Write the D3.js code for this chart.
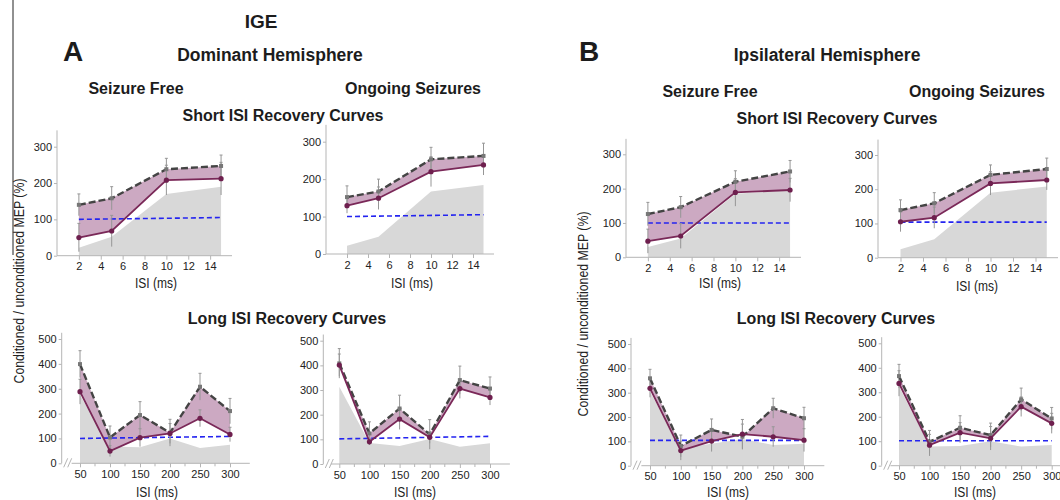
<!DOCTYPE html>
<html>
<head>
<meta charset="utf-8">
<script src="https://cdn.jsdelivr.net/npm/d3@7"></script>
<style>
  body { margin: 0; background: #fff; }
  svg { display: block; }
  .tick text { font-family: "Liberation Sans Narrow", "Liberation Sans", Arial, sans-serif; font-size: 11px; fill: #222; }
  .axis path, .axis line { stroke: #b5b5b5; }
  .ttl { font-family: "Liberation Sans", Arial, sans-serif; font-weight: bold; fill: #1c1c1c; }
  .lab { font-family: "Liberation Sans Narrow", "Liberation Sans", Arial, sans-serif; fill: #222; }
</style>
</head>
<body>
<svg width="1060" height="500"></svg>
<script>
// ---- data ----
var shortISI = [2, 5, 10, 15];
var longISI = [50, 100, 150, 200, 250, 300];
var shortXTicks = [2, 4, 6, 8, 10, 12, 14];
var longXTicks = [50, 100, 150, 200, 250, 300];
var shortYTicks = [0, 100, 200, 300];
var longYTicks = [0, 100, 200, 300, 400, 500];

// A: dominant hemisphere, short ISI, seizure free
var aShortFreeSolid = [50, 68, 208, 212];
var aShortFreeDashed = [140, 158, 238, 247];
var aShortFreeSolidErr = [39, 43, 41, 45];
var aShortFreeDashedErr = [30, 32, 30, 30];
var aShortFreeGray = [22, 52, 170, 190];
var aShortFreeBlue = [100, 105];
// A: short ISI, ongoing seizures
var aShortOngSolid = [129, 149, 220, 238];
var aShortOngDashed = [152, 167, 253, 262];
var aShortOngSolidErr = [20, 30, 40, 27];
var aShortOngDashedErr = [30, 33, 32, 34];
var aShortOngGray = [22, 46, 167, 184];
var aShortOngBlue = [100, 105];
// B: ipsilateral hemisphere, short ISI, seizure free
var bShortFreeSolid = [47, 62, 189, 196];
var bShortFreeDashed = [126, 146, 220, 250];
var bShortFreeSolidErr = [35, 36, 40, 34];
var bShortFreeDashedErr = [34, 31, 32, 32];
var bShortFreeGray = [30, 55, 185, 195];
var bShortFreeBlue = [100, 100];
// B: short ISI, ongoing seizures
var bShortOngSolid = [105, 117, 217, 227];
var bShortOngDashed = [139, 159, 242, 259];
var bShortOngSolidErr = [29, 31, 34, 29];
var bShortOngDashedErr = [30, 31, 29, 32];
var bShortOngGray = [25, 54, 190, 208];
var bShortOngBlue = [104, 104];

// A: long ISI, seizure free
var aLongFreeSolid = [288, 49, 103, 120, 181, 116];
var aLongFreeDashed = [399, 104, 194, 123, 308, 210];
var aLongFreeSolidErr = [50, 22, 36, 40, 34, 29];
var aLongFreeDashedErr = [54, 46, 54, 54, 54, 51];
var aLongFreeGray = [275, 68, 65, 100, 62, 75];
var aLongFreeBlue = [100, 108];
// A: long ISI, ongoing seizures
var aLongOngSolid = [401, 90, 182, 108, 306, 270];
var aLongOngDashed = [408, 124, 225, 120, 340, 306];
var aLongOngSolidErr = [45, 13, 42, 24, 40, 31];
var aLongOngDashedErr = [60, 47, 54, 60, 57, 47];
var aLongOngGray = [313, 85, 73, 101, 70, 84];
var aLongOngBlue = [102, 112];
// B: long ISI, seizure free
var bLongFreeSolid = [318, 62, 101, 130, 119, 105];
var bLongFreeDashed = [359, 81, 147, 119, 236, 195];
var bLongFreeSolidErr = [37, 39, 43, 60, 41, 47];
var bLongFreeDashedErr = [37, 45, 45, 52, 41, 45];
var bLongFreeGray = [305, 72, 90, 110, 85, 90];
var bLongFreeBlue = [104, 104];
// B: long ISI, ongoing seizures
var bLongOngSolid = [336, 84, 135, 112, 241, 173];
var bLongOngDashed = [366, 98, 155, 125, 271, 193];
var bLongOngSolidErr = [52, 44, 41, 48, 40, 41];
var bLongOngDashedErr = [48, 46, 49, 49, 46, 45];
var bLongOngGray = [325, 78, 80, 100, 78, 85];
var bLongOngBlue = [102, 102];

// ---- layout ----
var svg = d3.select("svg");

var panels = [
  {isi: shortISI, kind: "short", xd: [0, 16], xr: [57, 232], yr: [255.7, 146.7], lx: 156, ly: 288,
   solid: aShortFreeSolid, dashed: aShortFreeDashed, se: aShortFreeSolidErr, de: aShortFreeDashedErr, gray: aShortFreeGray, blue: aShortFreeBlue},
  {isi: shortISI, kind: "short", xd: [0, 16], xr: [326, 494], yr: [254, 141.7], lx: 412, ly: 288,
   solid: aShortOngSolid, dashed: aShortOngDashed, se: aShortOngSolidErr, de: aShortOngDashedErr, gray: aShortOngGray, blue: aShortOngBlue},
  {isi: shortISI, kind: "short", xd: [0, 16], xr: [626, 801], yr: [257.3, 154.3], lx: 720, ly: 288,
   solid: bShortFreeSolid, dashed: bShortFreeDashed, se: bShortFreeSolidErr, de: bShortFreeDashedErr, gray: bShortFreeGray, blue: bShortFreeBlue},
  {isi: shortISI, kind: "short", xd: [0, 16], xr: [878, 1058], yr: [257.7, 155], lx: 977, ly: 291,
   solid: bShortOngSolid, dashed: bShortOngDashed, se: bShortOngSolidErr, de: bShortOngDashedErr, gray: bShortOngGray, blue: bShortOngBlue},
  {isi: longISI, kind: "long", xd: [50, 300], xr: [80, 230], yr: [463.3, 339], ax: 61.7, lx: 157, ly: 497,
   solid: aLongFreeSolid, dashed: aLongFreeDashed, se: aLongFreeSolidErr, de: aLongFreeDashedErr, gray: aLongFreeGray, blue: aLongFreeBlue},
  {isi: longISI, kind: "long", xd: [50, 300], xr: [339.3, 490], yr: [464, 340.7], ax: 323.3, lx: 415, ly: 497,
   solid: aLongOngSolid, dashed: aLongOngDashed, se: aLongOngSolidErr, de: aLongOngDashedErr, gray: aLongOngGray, blue: aLongOngBlue},
  {isi: longISI, kind: "long", xd: [50, 300], xr: [650, 804], yr: [465.7, 344], ax: 631, lx: 728, ly: 497,
   solid: bLongFreeSolid, dashed: bLongFreeDashed, se: bLongFreeSolidErr, de: bLongFreeDashedErr, gray: bLongFreeGray, blue: bLongFreeBlue},
  {isi: longISI, kind: "long", xd: [50, 300], xr: [899, 1051.7], yr: [465.7, 343.3], ax: 881.7, lx: 975, ly: 497,
   solid: bLongOngSolid, dashed: bLongOngDashed, se: bLongOngSolidErr, de: bLongOngDashedErr, gray: bLongOngGray, blue: bLongOngBlue}
];

function drawPanel(p) {
  var g = svg.append("g");
  var isShort = p.kind === "short";
  var x = d3.scaleLinear().domain(p.xd).range(p.xr);
  var y = d3.scaleLinear().domain(isShort ? [0, 300] : [0, 500]).range(p.yr);
  var axisX = isShort ? x(0) : p.ax;
  var pts = p.isi.map(function (v, i) {
    return {x: v, s: p.solid[i], d: p.dashed[i], se: p.se[i], de: p.de[i], g: p.gray[i]};
  });

  // gray shaded region
  g.append("path").datum(pts)
    .attr("fill", "#d8d8d8")
    .attr("d", d3.area().x(function (d) { return x(d.x); }).y0(y(0)).y1(function (d) { return y(d.g); }));

  // pink band between curves
  g.append("path").datum(pts)
    .attr("fill", "#c7a0bb")
    .attr("fill-opacity", 0.9)
    .attr("d", d3.area().x(function (d) { return x(d.x); })
      .y0(function (d) { return y(d.s); }).y1(function (d) { return y(d.d); }));

  // axes
  var yAxis = d3.axisLeft(y).tickValues(isShort ? shortYTicks : longYTicks).tickSizeInner(3).tickSizeOuter(0).tickPadding(2);
  var ya = g.append("g").attr("class", "axis").attr("transform", "translate(" + axisX + ",0)").call(yAxis);
  ya.select(".domain").remove();
  ya.append("line").attr("y1", y(0)).attr("y2", y(isShort ? 345 : 525)).attr("stroke", "#b5b5b5");

  var xAxis = d3.axisBottom(x).tickValues(isShort ? shortXTicks : longXTicks).tickSizeInner(4).tickSizeOuter(0).tickPadding(3);
  var xa = g.append("g").attr("class", "axis").attr("transform", "translate(0," + y(0) + ")").call(xAxis);
  xa.select(".domain").remove();
  xa.selectAll(".tick text").attr("font-size", 12);
  if (isShort) {
    xa.append("line").attr("x1", x(0)).attr("x2", x(16)).attr("stroke", "#b5b5b5");
  } else {
    xa.append("line").attr("x1", x(36)).attr("x2", x(333)).attr("stroke", "#b5b5b5");
    // minor ticks
    xa.selectAll(".minor").data([75, 125, 175, 225, 275]).enter().append("line")
      .attr("x1", function (d) { return x(d); }).attr("x2", function (d) { return x(d); })
      .attr("y2", 3).attr("stroke", "#b5b5b5");
    // axis break marks
    [axisX + 2, axisX + 6].forEach(function (bx) {
      xa.append("line").attr("x1", bx).attr("y1", 4).attr("x2", bx + 4).attr("y2", -5)
        .attr("stroke", "#999").attr("stroke-width", 1);
    });
  }

  // blue reference line
  var first = p.isi[0], last = p.isi[p.isi.length - 1];
  g.append("line")
    .attr("x1", x(first)).attr("x2", x(last))
    .attr("y1", y(p.blue[0])).attr("y2", y(p.blue[1]))
    .attr("stroke", "#2424f0").attr("stroke-width", 1.6).attr("stroke-dasharray", "5,3");

  // error bars
  var eb = g.append("g").attr("stroke", "#969696").attr("stroke-width", 1);
  pts.forEach(function (d) {
    [[d.d, d.de], [d.s, d.se]].forEach(function (e) {
      eb.append("line").attr("x1", x(d.x)).attr("x2", x(d.x)).attr("y1", y(e[0] - e[1])).attr("y2", y(e[0] + e[1]));
      eb.append("line").attr("x1", x(d.x) - 1.5).attr("x2", x(d.x) + 1.5).attr("y1", y(e[0] + e[1])).attr("y2", y(e[0] + e[1]));
    });
  });

  // dashed curve
  g.append("path").datum(pts)
    .attr("fill", "none").attr("stroke", "#444").attr("stroke-width", 2.4).attr("stroke-dasharray", "7,3")
    .attr("d", d3.line().x(function (d) { return x(d.x); }).y(function (d) { return y(d.d); }));
  g.selectAll(".dm").data(pts).enter().append("rect")
    .attr("x", function (d) { return x(d.x) - 2; }).attr("y", function (d) { return y(d.d) - 2; })
    .attr("width", 4).attr("height", 4).attr("fill", "#777");

  // solid curve
  g.append("path").datum(pts)
    .attr("fill", "none").attr("stroke", "#7a2858").attr("stroke-width", 1.8)
    .attr("d", d3.line().x(function (d) { return x(d.x); }).y(function (d) { return y(d.s); }));
  g.selectAll(".sm").data(pts).enter().append("circle")
    .attr("cx", function (d) { return x(d.x); }).attr("cy", function (d) { return y(d.s); })
    .attr("r", 2.6).attr("fill", "#6e1f4e");

  g.append("text").attr("class", "lab").attr("x", p.lx).attr("y", p.ly)
    .attr("text-anchor", "middle").attr("font-size", 14)
    .attr("textLength", 42).attr("lengthAdjust", "spacingAndGlyphs")
    .text("ISI (ms)");
}

panels.forEach(drawPanel);

// ---- titles ----
var titles = [
  {t: "IGE", x: 261, y: 28, s: 19, a: "middle"},
  {t: "A", x: 63, y: 61, s: 28, a: "start"},
  {t: "Dominant Hemisphere", x: 270, y: 61, s: 17.5, a: "middle"},
  {t: "Seizure Free", x: 136, y: 94, s: 16, a: "middle"},
  {t: "Ongoing Seizures", x: 413, y: 94, s: 16, a: "middle"},
  {t: "Short ISI Recovery Curves", x: 283, y: 121, s: 16, a: "middle"},
  {t: "Long ISI Recovery Curves", x: 287, y: 324, s: 16, a: "middle"},
  {t: "B", x: 579, y: 61, s: 28, a: "start"},
  {t: "Ipsilateral Hemisphere", x: 827, y: 61, s: 17.5, a: "middle"},
  {t: "Seizure Free", x: 710, y: 97, s: 16, a: "middle"},
  {t: "Ongoing Seizures", x: 977, y: 97, s: 16, a: "middle"},
  {t: "Short ISI Recovery Curves", x: 837, y: 124, s: 16, a: "middle"},
  {t: "Long ISI Recovery Curves", x: 836, y: 324, s: 16, a: "middle"}
];
svg.selectAll(".ttl").data(titles).enter().append("text")
  .attr("class", "ttl")
  .attr("x", function (d) { return d.x; }).attr("y", function (d) { return d.y; })
  .attr("font-size", function (d) { return d.s; })
  .attr("text-anchor", function (d) { return d.a; })
  .text(function (d) { return d.t; });

// y axis labels
[[19, 281], [583, 314]].forEach(function (c) {
  svg.append("text").attr("class", "lab")
    .attr("transform", "translate(" + (c[0] + 5) + "," + c[1] + ") rotate(-90)")
    .attr("text-anchor", "middle").attr("font-size", 14)
    .attr("textLength", 205).attr("lengthAdjust", "spacingAndGlyphs")
    .text("Conditioned / unconditioned MEP (%)");
});

// left border line of the original figure
svg.append("line").attr("x1", 13).attr("x2", 13).attr("y1", 0).attr("y2", 255)
  .attr("stroke", "#222").attr("stroke-width", 1);
</script>
</body>
</html>
